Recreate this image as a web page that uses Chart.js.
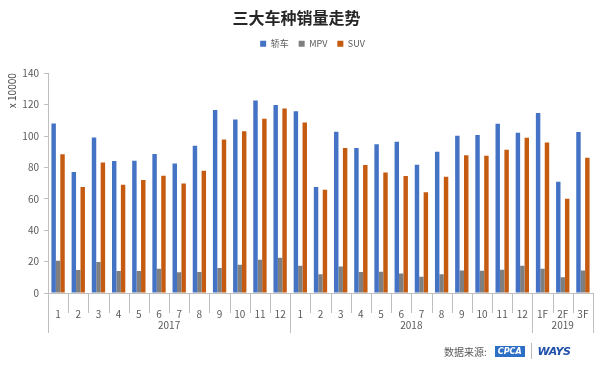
<!DOCTYPE html>
<html lang="zh">
<head>
  <meta charset="UTF-8" />
  <title>三大车种销量走势</title>
  <script src="https://cdn.jsdelivr.net/npm/chart.js"></script>
  <style>
    body { margin: 0; background: #fff; font-family: "Noto Sans CJK SC", sans-serif; }
    .chart-container { position: relative; width: 603px; height: 368px; }
    #source { position: absolute; left: 444px; top: 343px; font-size: 10px; color: #595959; display: flex; align-items: center; }
    #source .cpca { margin-left: 8px; background: #2e6fc6; color: #fff; font: italic bold 8px "DejaVu Sans", sans-serif; padding: 1px 3px; }
    #source .sep { width: 1px; height: 16px; background: #bbb; margin: 0 6px; }
    #source .ways { color: #1f4fa8; font: italic bold 11px "DejaVu Sans", sans-serif; letter-spacing: -0.5px; }
  </style>
</head>
<body>
  <div class="chart-container">
    <canvas id="salesChart"></canvas>
    <div id="source"><span>数据来源:</span><span class="cpca">CPCA</span><span class="sep"></span><span class="ways">WAYS</span></div>
  </div>

  <script>
    // month labels, grouped by year below
    const months = ['1','2','3','4','5','6','7','8','9','10','11','12',
                    '1','2','3','4','5','6','7','8','9','10','11','12',
                    '1F','2F','3F'];
    const years = ['2017', '2018', '2019'];
    const yearCounts = [12, 12, 3];

    // sales, unit: 10000 vehicles
    const sedan = [108, 77, 99, 84, 84.2, 88.5, 82.5, 93.8, 116.5, 110.5, 122.6, 119.7,
                   115.8, 67.5, 102.7, 92.3, 94.8, 96.3, 81.7, 90, 100.2, 100.6, 107.8, 102,
                   114.6, 70.9, 102.5];
    const mpv = [20.6, 14.6, 19.7, 14, 14, 15.5, 13.2, 13.4, 15.9, 18, 21.2, 22.5,
                 17.4, 12, 16.8, 13.4, 13.6, 12.5, 10.4, 11.9, 14.4, 14.2, 14.8, 17.4,
                 15.5, 10, 14.4];
    const suv = [88.3, 67.5, 83.2, 69, 72, 74.7, 69.8, 77.9, 97.8, 103, 111, 117.5,
                 108.6, 65.8, 92.3, 81.5, 76.8, 74.5, 64.1, 74, 87.8, 87.4, 91.2, 98.9,
                 95.9, 60, 86.1];

    const axisColor = '#bfbfbf';
    const textColor = '#595959';
    const fontFamily = '"Noto Sans CJK SC", sans-serif';

    // extra room between the legend and the plot, and nudge legend right
    const legendGapPlugin = {
      id: 'legendGap',
      beforeInit(chart) {
        const fit = chart.legend.fit;
        chart.legend.fit = function () {
          fit.call(this);
          this.height += 15;
        };
      },
      afterLayout(chart) {
        chart.legend.left += 16;
        chart.legend.right += 16;
      }
    };

    // draws the month/year separators and year labels under the x axis
    const yearAxisPlugin = {
      id: 'yearAxis',
      afterDraw(chart) {
        const x = chart.scales.x;
        const ctx = chart.ctx;
        const top = chart.chartArea.bottom;
        const yearStarts = [0];
        yearCounts.forEach(c => yearStarts.push(yearStarts[yearStarts.length - 1] + c));

        ctx.save();
        ctx.strokeStyle = axisColor;
        ctx.lineWidth = 1;
        for (let i = 0; i <= months.length; i++) {
          const px = Math.round(x.getPixelForValue(i - 0.5)) + 0.5;
          const len = yearStarts.includes(i) ? 40 : 20;
          ctx.beginPath();
          ctx.moveTo(px, top);
          ctx.lineTo(px, top + len);
          ctx.stroke();
        }
        ctx.fillStyle = textColor;
        ctx.font = '10px ' + fontFamily;
        ctx.textAlign = 'center';
        ctx.textBaseline = 'middle';
        years.forEach((yr, k) => {
          const a = x.getPixelForValue(yearStarts[k] - 0.5);
          const b = x.getPixelForValue(yearStarts[k + 1] - 0.5);
          ctx.fillText(yr, (a + b) / 2, top + 32);
        });
        ctx.restore();
      }
    };

    const ctx = document.getElementById('salesChart').getContext('2d');
    new Chart(ctx, {
      type: 'bar',
      data: {
        labels: months,
        datasets: [
          { label: '轿车', data: sedan, backgroundColor: '#4472c4' },
          { label: 'MPV', data: mpv, backgroundColor: '#7f7f7f' },
          { label: 'SUV', data: suv, backgroundColor: '#c55a11' }
        ]
      },
      options: {
        responsive: true,
        maintainAspectRatio: false,
        animation: false,
        datasets: { bar: { barPercentage: 1, categoryPercentage: 0.66 } },
        layout: { padding: { left: 0, right: 10, top: 0, bottom: 0 } },
        plugins: {
          title: {
            display: true,
            text: '三大车种销量走势',
            color: '#262626',
            font: { family: fontFamily, size: 16, weight: 'bold' },
            padding: { top: 8, bottom: 2 }
          },
          legend: {
            position: 'top',
            labels: {
              boxWidth: 6, boxHeight: 6, padding: 10,
              color: textColor,
              font: { family: fontFamily, size: 9 }
            }
          },
          tooltip: { enabled: false }
        },
        scales: {
          x: {
            afterFit(scale) { scale.height = 75; },
            grid: { display: false },
            border: { display: true, color: axisColor },
            ticks: { color: textColor, font: { family: fontFamily, size: 10 }, padding: 7, maxRotation: 0, autoSkip: false }
          },
          y: {
            min: 0, max: 140,
            afterFit(scale) { scale.width = 48; },
            grid: { drawOnChartArea: false, tickLength: 4, color: axisColor },
            border: { display: true, color: axisColor },
            ticks: { stepSize: 20, color: textColor, font: { family: fontFamily, size: 10 }, padding: 5 },
            title: {
              display: true, text: 'x 10000', align: 'end',
              color: '#404040', font: { family: fontFamily, size: 10 }, padding: { top: 6, bottom: 0 }
            }
          }
        }
      },
      plugins: [legendGapPlugin, yearAxisPlugin]
    });
  </script>
</body>
</html>
